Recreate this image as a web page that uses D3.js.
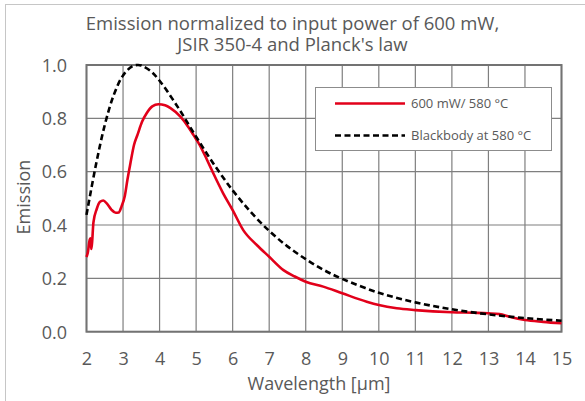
<!DOCTYPE html>
<html><head><meta charset="utf-8">
<script src="https://cdn.jsdelivr.net/npm/d3@7"></script>
<style>body{margin:0;background:#fff}svg{display:block}text{font-family:"Open Sans",sans-serif;fill:#595959}</style>
</head><body><svg id="c" width="585" height="401"></svg>
<script>
const titleLines = ["Emission normalized to input power of 600 mW,", "JSIR 350-4 and Planck's law"];
const xLabel = "Wavelength [μm]";
const yLabel = "Emission";
const xTicks = [2,3,4,5,6,7,8,9,10,11,12,13,14,15];
const yTicks = [0,0.2,0.4,0.6,0.8,1.0];
const seriesNames = ["600 mW/ 580 °C", "Blackbody at 580 °C"];
const seriesColors = ["#e2001a", "#000000"];

const redWl = [2.0,2.04,2.08,2.11,2.13,2.15,2.19,2.28,2.37,2.46,2.56,2.68,2.8,2.88,2.96,3.05,3.12,3.2,3.3,3.4,3.52,3.65,3.8,3.97,4.15,4.3,4.57,4.8,4.93,5.1,5.3,5.47,5.74,6.0,6.29,6.66,7.0,7.39,7.7,8.0,8.48,9.0,9.67,10.0,10.49,11.0,12.0,12.6,13.0,13.3,13.6,14.0,14.5,15.0];
const redVal = [0.28,0.30,0.34,0.35,0.31,0.33,0.41,0.46,0.487,0.492,0.48,0.458,0.446,0.447,0.47,0.51,0.57,0.63,0.70,0.74,0.787,0.82,0.845,0.853,0.849,0.838,0.806,0.765,0.737,0.70,0.644,0.594,0.519,0.456,0.381,0.325,0.281,0.231,0.207,0.1875,0.169,0.144,0.1125,0.10,0.0877,0.081,0.073,0.071,0.069,0.066,0.055,0.044,0.037,0.0315];

const bbWl = [2.0,2.25,2.5,2.75,3.0,3.25,3.4,3.5,3.75,4.0,4.5,5.0,5.5,6.0,6.5,7.0,7.5,8.0,8.5,9.0,10.0,11.0,12.0,13.0,14.0,15.0];
const bbVal = [0.438,0.620,0.775,0.889,0.961,0.995,1.0,0.998,0.978,0.941,0.842,0.731,0.625,0.530,0.448,0.378,0.320,0.272,0.231,0.198,0.146,0.110,0.084,0.065,0.051,0.041];

const svg = d3.select("#c");
const x = d3.scaleLinear().domain([2,15]).range([86.5,561.5]);
const y = d3.scaleLinear().domain([0,1]).range([331.7,65]);

// outer frame
svg.append("rect").attr("x",5.5).attr("y",4.5).attr("width",620).attr("height",420)
  .attr("fill","none").attr("stroke","#c6c6c6").attr("stroke-width",1);

// title
svg.append("g").selectAll("text").data(titleLines).join("text")
  .attr("x",292.5).attr("y",(d,i)=>30+i*21).attr("text-anchor","middle")
  .style("font-size","18.5px").text(d=>d);

// grid
const g = svg.append("g");
g.selectAll(".vx").data(xTicks).join("line")
  .attr("x1",d=>x(d)).attr("x2",d=>x(d)).attr("y1",y(0)).attr("y2",y(1))
  .attr("stroke","#7f7f7f").attr("stroke-width",1.2);
g.selectAll(".hy").data(yTicks).join("line")
  .attr("x1",x(2)).attr("x2",x(15)).attr("y1",d=>y(d)).attr("y2",d=>y(d))
  .attr("stroke","#7f7f7f").attr("stroke-width",1.2);
g.append("rect").attr("x",x(2)).attr("y",y(1)).attr("width",x(15)-x(2)).attr("height",y(0)-y(1))
  .attr("fill","none").attr("stroke","#737373").attr("stroke-width",2);

// axes via d3
const xAxis = d3.axisBottom(x).tickValues(xTicks).tickSize(0).tickPadding(0).tickFormat(d3.format("d"));
const xa = svg.append("g").attr("transform",`translate(0,${y(0)})`).call(xAxis);
xa.select(".domain").remove();
xa.selectAll("text").attr("dy",null).attr("y",33).style("font-size","18px").attr("fill","#595959");

const yAxis = d3.axisLeft(y).tickValues(yTicks).tickSize(0).tickPadding(0).tickFormat(d3.format(".1f"));
const ya = svg.append("g").attr("transform",`translate(67,0)`).call(yAxis);
ya.select(".domain").remove();
ya.selectAll("text").attr("dy","0.35em").attr("x",0).style("font-size","18px").attr("fill","#595959");

// axis labels
svg.append("text").attr("x",319).attr("y",390).attr("text-anchor","middle").style("font-size","18px").text(xLabel);
svg.append("text").attr("transform","translate(30,197) rotate(-90)").attr("text-anchor","middle").style("font-size","18px").text(yLabel);

// lines
const line = d3.line().x(d=>x(d[0])).y(d=>y(d[1])).curve(d3.curveMonotoneX);
const bbData = bbWl.map((w,i)=>[w,bbVal[i]]);
const redData = redWl.map((w,i)=>[w,redVal[i]]);
svg.append("path").datum(redData).attr("d",line).attr("fill","none")
  .attr("stroke",seriesColors[0]).attr("stroke-width",2.6).attr("stroke-linejoin","round");
svg.append("path").datum(bbData).attr("d",d3.line().x(d=>x(d[0])).y(d=>y(d[1])).curve(d3.curveCatmullRom)).attr("fill","none")
  .attr("stroke",seriesColors[1]).attr("stroke-width",2.6).attr("stroke-dasharray","6,3.5");

// legend
const lg = svg.append("g");
lg.append("rect").attr("x",315.5).attr("y",87.5).attr("width",236).attr("height",63)
  .attr("fill","#fff").attr("stroke","#8c8c8c").attr("stroke-width",1);
const items = lg.selectAll("g.it").data(seriesNames).join("g").attr("transform",(d,i)=>`translate(0,${103.5+i*32})`);
items.append("line").attr("x1",335).attr("x2",405).attr("y1",0).attr("y2",0)
  .attr("stroke",(d,i)=>seriesColors[i]).attr("stroke-width",2.6)
  .attr("stroke-dasharray",(d,i)=>i===1?"6,3.5":null);
items.append("text").attr("x",411).attr("y",0).attr("dy","0.35em").style("font-size","13px").text(d=>d);
</script></body></html>
